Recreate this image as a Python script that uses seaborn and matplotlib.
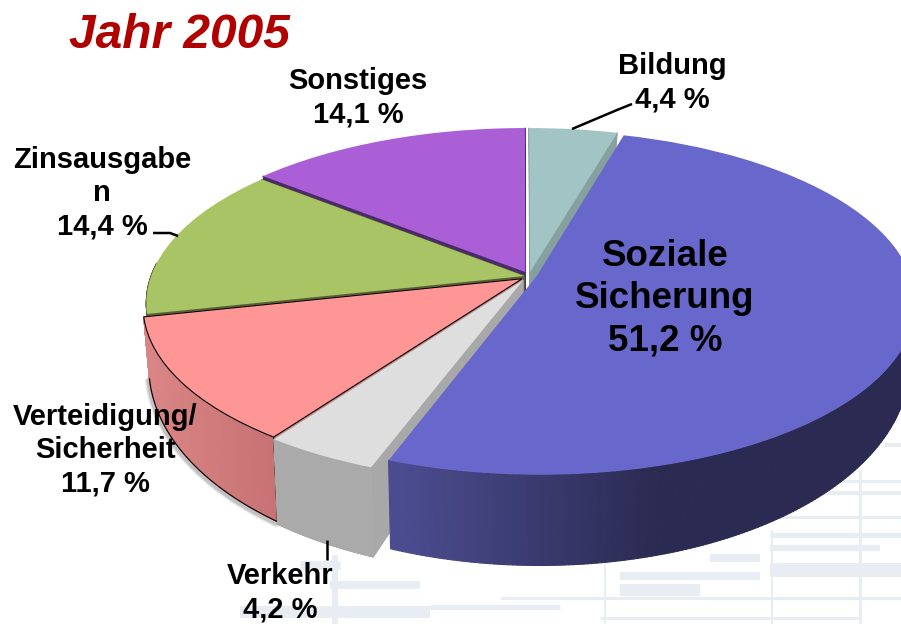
import numpy as np
import matplotlib
matplotlib.use("Agg")
import matplotlib.pyplot as plt
import matplotlib.colors as mcolors
from matplotlib.collections import PolyCollection
from matplotlib.transforms import Transform
import seaborn as sns

# ---- data -------------------------------------------------------------
categories = ["Bildung", "Soziale Sicherung", "Verkehr",
              "Verteidigung/Sicherheit", "Zinsausgaben", "Sonstiges"]
values = [4.4, 51.2, 4.2, 11.7, 14.4, 14.1]
top_colors = ["#a3c4c4", "#6868cc", "#dedede", "#fe9696", "#a9c464", "#aa5fd6"]
wall_near = ["#86a0a0", "#4b4c90", "#a8a8a8", "#d98585", "#55622f", "#4b2a6b"]
wall_far = ["#7f9898", "#2b2a52", "#aaaaaa", "#c77272", "#55622f", "#4b2a6b"]
shifts = [(0.019, 0.0), (0.038, -0.020), (0.0, -0.050),
          (-0.002, -0.040), (0.004, -0.024), (0.006, 0.0)]
draw_order = [5, 0, 4, 3, 2, 1]

title_text = "Jahr 2005"
label_texts = ["Sonstiges\n14,1 %", "Bildung\n4,4 %", "Zinsausgabe\nn\n14,4 %",
               "Verteidigung/\nSicherheit\n11,7 %", "Verkehr\n4,2 %"]
label_xy = [(358, 98), (672, 82.5), (102, 193), (105, 450), (280, 593)]
big_text = "Soziale\nSicherung\n51,2 %"
leaders = [((572, 129), (617, 110), (632, 104)),
           ((153, 233), (170, 233), (178, 236)),
           ((327, 540), (327, 550), (327, 560))]

# background texture: (y, x0, x1, width px)
tex_h = [(481, 820, 901, 3), (493, 800, 901, 4), (517, 770, 901, 3),
         (535, 770, 901, 5), (548, 770, 880, 6), (558, 710, 760, 8),
         (570, 770, 901, 14), (576, 620, 760, 8), (590, 620, 700, 12),
         (598, 500, 901, 3), (607, 430, 560, 5), (565, 300, 340, 9),
         (585, 330, 420, 8), (612, 240, 430, 12), (618, 600, 860, 3),
         (445, 885, 901, 4), (410, 895, 901, 3)]
tex_v = [(860, 470, 624, 3), (772, 530, 624, 2), (605, 560, 624, 2), (335, 555, 624, 6)]

# ---- projection of the pie disc onto the slanted picture plane --------
CX, CY, RX, RY, K = 523.0, 272.0, 372.0, 166.7, 0.158
DEPTH_MID, DEPTH_SLOPE, FOOT = 52.0, 38.0, 0.985


class Slant(Transform):
    input_dims = 2
    output_dims = 2
    has_inverse = False
    is_separable = False

    def transform_non_affine(self, values):
        values = np.asarray(values, dtype=float)
        u, v = values[:, 0], values[:, 1]
        w = 1 + K * v
        return np.column_stack([CX + RX * u / w, CY - RY * v / w])


slant = Slant()


def project(u, v):
    return slant.transform_non_affine(np.column_stack([u, v]))


def depth(v):
    return DEPTH_MID - DEPTH_SLOPE * v


def foot(pt, d):
    return [CX + (pt[0] - CX) * FOOT, pt[1] + d]


sns.set_theme(style="white")
plt.rcParams["font.family"] = ["Liberation Sans", "DejaVu Sans"]

fig = plt.figure(figsize=(9.01, 6.24), dpi=100, facecolor="white")
ax = fig.add_axes([0, 0, 1, 1])
palette = sns.color_palette(top_colors)
wedges, _ = ax.pie(values, colors=palette, startangle=90, counterclock=False,
                   radius=1.0, wedgeprops={"linewidth": 0})
ax.set_aspect("auto")
ax.set_xlim(0, 901)
ax.set_ylim(624, 0)
ax.axis("off")

for y, x0, x1, w in tex_h:
    ax.plot([x0, x1], [y, y], color="#e8edf3", lw=w * 0.72, solid_capstyle="butt", zorder=0)
for x, y0, y1, w in tex_v:
    ax.plot([x, x], [y0, y1], color="#e8edf3", lw=w * 0.72, solid_capstyle="butt", zorder=0)

z = 2
for i in draw_order:
    wd = wedges[i]
    c = np.array(shifts[i])
    wd.set_center((float(c[0]), float(c[1])))
    t = np.radians(np.linspace(wd.theta1, wd.theta2, 300))
    u, v = c[0] + np.cos(t), c[1] + np.sin(t)
    p = project(u, v)
    d = depth(v)
    near, far = mcolors.to_rgb(wall_near[i]), mcolors.to_rgb(wall_far[i])
    polys, cols = [], []
    # radial cut faces (those of the large slice stay hidden)
    apex = project(c[:1], c[1:])[0]
    da = depth(c[1])
    for end, de in ((p[0], d[0]), (p[-1], d[-1])):
        if i != 1:
            polys.append([apex, end, foot(end, de), foot(apex, da)])
            cols.append(near)
    # outer wall, colour running with x; only the front of the rim shows
    for j in range(len(t) - 1):
        if v[j] > 0.05 and v[j + 1] > 0.05:
            continue
        a, b = p[j], p[j + 1]
        polys.append([a, b, foot(b, d[j + 1]), foot(a, d[j])])
        f = np.clip((0.5 * (a[0] + b[0]) - 400) / 260, 0, 1) if i == 1 else \
            np.clip((0.5 * (a[0] + b[0]) - 150) / 130, 0, 1)
        cols.append(tuple(np.array(near) * (1 - f) + np.array(far) * f))
    if i == 3:
        # soft shadow under the red slice
        fx = CX + (p[:, 0] - CX) * FOOT
        for lw, a in ((5, 0.10), (3, 0.15)):
            ax.plot(fx - 1, p[:, 1] + d + 2, color="black", lw=lw, alpha=a, zorder=1)
    ax.add_collection(PolyCollection(polys, facecolors=cols, edgecolors=cols,
                                     linewidths=0.8, zorder=z))
    z += 1
    if i == 3:
        fx = CX + (p[:, 0] - CX) * FOOT
        ax.plot(fx, p[:, 1] + d, color="black", lw=0.8, zorder=z)
        ax.plot([p[-1, 0], fx[-1]], [p[-1, 1], p[-1, 1] + d[-1]],
                color="black", lw=0.8, zorder=z)
        wd.set_edgecolor("black")
        wd.set_linewidth(0.8)
    wd.set_transform(slant + ax.transData)
    wd.set_zorder(z)
    z += 1

for pts in leaders:
    xs, ys = zip(*pts)
    ax.plot(xs, ys, color="black", lw=1.8, zorder=40, solid_capstyle="butt")

ax.text(69, 48, title_text, color="#b00000", fontsize=34.5, fontweight="bold",
        fontstyle="italic", ha="left", va="baseline", zorder=50)
for txt, (x, y) in zip(label_texts, label_xy):
    ax.text(x, y, txt, color="black", fontsize=21, fontweight="bold", ha="center",
            va="center", multialignment="center", linespacing=1.23, zorder=50)
ax.text(665, 299, big_text, color="black", fontsize=26.5, fontweight="bold",
        ha="center", va="center", multialignment="center", linespacing=1.26, zorder=50)

fig.savefig("out.png", dpi=100, facecolor="white")
